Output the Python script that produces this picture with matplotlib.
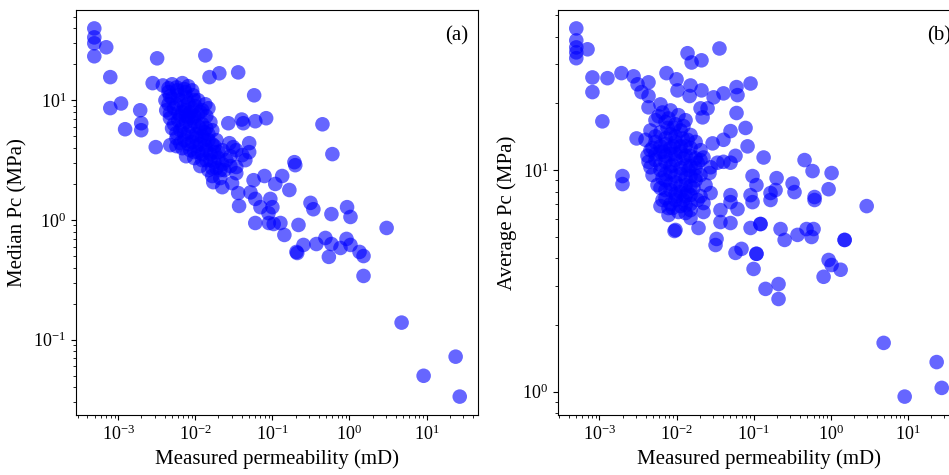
import matplotlib
matplotlib.use("Agg")
import matplotlib.pyplot as plt

plt.rcParams["font.family"] = ["Liberation Serif", "DejaVu Serif"]
plt.rcParams["mathtext.fontset"] = "stix"

# (a) permeability (mD) vs median Pc (MPa)
perm_a = [
    4.9e-4, 4.9e-4, 4.9e-4, 7.0e-4, 4.9e-4, 3.2e-3, 0.0135, 7.9e-4, 2.8e-3, 0.0153,
    0.0205, 0.036, 0.058, 7.9e-4, 1.09e-3, 1.93e-3, 1.99e-3, 1.99e-3, 1.23e-3, 3.07e-3,
    4.73e-3, 0.0268, 0.040, 0.042, 0.060, 0.083, 0.050, 0.050, 0.031, 0.446,
    0.60, 0.193, 0.198, 0.079, 0.134, 0.057, 0.109, 0.166, 0.034, 0.034,
    0.0171, 0.0224, 0.030, 0.036, 0.052, 0.060, 0.037, 0.070, 0.094, 0.10,
    0.089, 0.312, 0.34, 0.583, 0.93, 1.03, 3.03, 0.060, 0.090, 0.104,
    0.127, 0.143, 0.218, 0.205, 0.21, 0.253, 0.372, 0.487, 0.583, 0.54,
    0.764, 0.915, 1.03, 1.35, 1.52, 1.52, 4.74, 9.15, 23.8, 26.9,
    # dense cluster
    0.0038, 0.0050, 0.0068, 0.0081, 0.0045, 0.0058, 0.0074, 0.0094, 0.0109, 0.0041,
    0.0050, 0.0064, 0.0081, 0.0100, 0.0135, 0.0148, 0.0042, 0.0053, 0.0068, 0.0086,
    0.0109, 0.0139, 0.0047, 0.0060, 0.0076, 0.0097, 0.0123, 0.0157, 0.0050, 0.0064,
    0.0081, 0.0103, 0.0131, 0.0166, 0.0057, 0.0072, 0.0091, 0.0116, 0.0148, 0.0188,
    0.0068, 0.0086, 0.0109, 0.0139, 0.0177, 0.0224, 0.0097, 0.0123, 0.0157, 0.0199,
    0.0253, 0.0116, 0.0148, 0.0188, 0.0238, 0.0285, 0.0166, 0.0211, 0.0076, 0.0057,
    0.0277, 0.034, 0.0407, 0.0446, 0.0285, 0.0074, 0.0091, 0.0116, 0.0086, 0.0103,
    0.0135, 0.0064, 0.0081, 0.0166, 0.0123,
    0.0045, 0.0057, 0.0072, 0.0091, 0.0047, 0.0060, 0.0076, 0.0097, 0.0123, 0.0045,
    0.0057, 0.0072, 0.0091, 0.0116, 0.0047, 0.0060, 0.0076, 0.0097, 0.0053, 0.0068,
    0.0109, 0.0139, 0.0057, 0.0072, 0.0091, 0.0148, 0.0064, 0.0081, 0.0103, 0.0131,
    0.0177, 0.0097, 0.0123, 0.0157, 0.0199, 0.0139, 0.0177, 0.0224, 0.0166, 0.0211,
]
pc_median = [
    39.8, 33.5, 29.9, 27.7, 23.3, 22.4, 23.7, 15.6, 13.9, 15.6,
    16.8, 17.1, 11.0, 8.6, 9.4, 8.25, 6.43, 5.62, 5.73, 4.06,
    4.22, 6.43, 6.9, 6.43, 6.68, 7.08, 4.38, 3.69, 4.06, 6.3,
    3.55, 3.04, 2.87, 2.33, 2.33, 2.15, 2.0, 1.78, 2.46, 2.77,
    2.07, 1.88, 2.03, 1.68, 1.7, 1.50, 1.31, 1.28, 1.50, 1.28,
    1.14, 1.39, 1.23, 1.12, 1.28, 1.06, 0.858, 0.944, 0.944, 0.926,
    0.944, 0.75, 0.909, 0.541, 0.53, 0.619, 0.63, 0.708, 0.63, 0.492,
    0.584, 0.695, 0.619, 0.541, 0.50, 0.341, 0.139, 0.050, 0.0722, 0.0335,
    # dense cluster
    13.3, 13.6, 13.9, 13.1, 11.7, 12.1, 11.7, 11.0, 10.0, 10.0,
    10.4, 10.0, 9.44, 8.91, 9.26, 8.58, 8.25, 8.58, 7.94, 7.94,
    7.64, 7.36, 7.08, 6.81, 6.56, 6.56, 6.31, 6.56, 5.84, 5.62,
    5.41, 5.21, 5.41, 5.62, 4.82, 4.64, 4.47, 4.30, 4.64, 4.64,
    3.98, 3.83, 3.69, 3.83, 3.69, 3.83, 3.29, 3.16, 3.16, 3.29,
    3.16, 2.82, 2.61, 2.71, 2.61, 2.82, 2.33, 2.24, 3.41, 4.14,
    4.38, 3.83, 3.48, 3.16, 3.41, 8.25, 7.08, 5.84, 6.07, 4.82,
    4.14, 7.36, 7.08, 4.30, 5.0,
    12.6, 12.8, 12.4, 12.1, 10.8, 11.0, 10.6, 10.0, 8.25, 9.26,
    9.26, 8.91, 8.58, 7.94, 7.8, 7.8, 7.36, 7.36, 6.31, 6.07,
    6.07, 5.84, 5.31, 5.21, 5.0, 5.21, 4.38, 4.30, 4.14, 4.64,
    4.14, 3.69, 3.55, 3.55, 3.69, 3.16, 3.04, 2.93, 2.71, 2.61,
]

# (b) permeability (mD) vs average Pc (MPa)
perm_b = [
    5.0e-4, 5.0e-4, 5.0e-4, 5.0e-4, 5.0e-4, 7.0e-4, 8.1e-4, 1.27e-3, 8.1e-4, 1.09e-3,
    1.93e-3, 2.77e-3, 3.12e-3, 4.33e-3, 3.51e-3, 4.33e-3, 4.33e-3, 6.19e-3, 7.41e-3, 0.0100,
    0.0103, 0.0152, 0.0148, 0.0211, 0.0139, 0.0157, 0.0211, 0.0361, 0.0303, 0.0407,
    0.0601, 0.0619, 0.0914, 0.0205, 0.0253, 0.0218, 0.0601, 0.0502, 0.0787, 0.0407,
    0.0294, 0.0836, 0.0583, 0.135, 3.03e-3, 1.99e-3, 1.99e-3, 4.59e-3, 0.459, 0.583,
    1.03, 0.942, 2.94, 0.321, 0.340, 0.199, 0.193, 0.166, 0.619, 0.0970,
    0.109, 0.0914, 0.0502, 0.0502, 0.0619, 0.0372, 0.0970, 0.123, 0.224, 0.253,
    0.372, 0.487, 0.601, 0.566, 1.52, 9.70e-3, 0.0193, 0.0277, 0.0224, 0.0224,
    0.0372, 0.0502, 0.0914, 0.0331, 0.0321, 0.0583, 0.0698, 0.109, 0.100, 6.58e-3,
    7.87e-3, 0.0131, 0.0152, 0.0188, 0.0139, 0.0277, 0.0340, 0.0407, 0.0188, 0.0224,
    0.166, 0.942, 1.03, 1.35, 0.811, 0.143, 0.211, 0.211, 4.88, 9.15,
    23.8, 27.7, 0.0502, 0.0268, 9.42e-3, 0.619, 8.87e-3, 0.0152, 0.0123, 1.52,
    0.123, 0.109,
    # dense cluster
    6.58e-3, 8.36e-3, 0.0106, 5.33e-3, 7.19e-3, 9.70e-3, 0.0131, 4.59e-3, 6.19e-3, 8.36e-3,
    0.0113, 0.0152, 3.96e-3, 5.33e-3, 7.19e-3, 9.70e-3, 0.0131, 0.0177, 4.59e-3, 6.19e-3,
    8.36e-3, 0.0113, 0.0152, 0.0205, 5.33e-3, 7.19e-3, 9.70e-3, 0.0131, 0.0177, 6.19e-3,
    8.36e-3, 0.0113, 0.0152, 7.19e-3, 9.70e-3, 0.0131, 0.0177, 6.19e-3, 8.36e-3, 0.0113,
    0.0152, 7.19e-3, 9.70e-3, 0.0131, 0.0106, 7.87e-3, 0.0205, 0.0238, 4.33e-3, 4.88e-3,
    8.87e-3, 0.0120, 7.64e-3, 5.66e-3, 0.0143, 6.78e-3, 9.14e-3, 0.0123, 0.0166, 0.0100,
    5.83e-3, 7.87e-3, 9.14e-3, 0.0123, 5.33e-3, 7.19e-3, 9.70e-3, 0.0139, 6.19e-3, 8.36e-3,
    0.0113, 0.0152, 5.33e-3, 7.19e-3, 9.70e-3, 0.0131, 0.0177, 6.19e-3, 8.36e-3, 0.0113,
    0.0152, 7.19e-3, 9.70e-3, 0.0131, 0.0177, 8.36e-3, 0.0113, 0.0152, 7.19e-3, 9.70e-3,
    0.0131, 8.36e-3, 0.0113, 0.0152, 6.58e-3, 4.88e-3, 4.20e-3, 0.0205, 0.0205, 6.19e-3,
]
pc_average = [
    43.6, 38.5, 35.8, 34.0, 32.0, 35.1, 26.2, 26.0, 22.5, 16.6,
    27.4, 26.5, 24.4, 24.9, 22.5, 21.6, 19.2, 19.8, 27.4, 25.7,
    22.9, 24.1, 21.6, 22.9, 33.7, 30.6, 31.3, 35.4, 21.3, 22.2,
    23.7, 21.8, 24.6, 19.0, 19.0, 17.3, 18.1, 15.0, 15.5, 13.7,
    13.2, 12.8, 11.6, 11.4, 13.9, 9.4, 8.65, 10.3, 11.1, 9.9,
    9.7, 8.2, 6.88, 8.7, 7.96, 9.2, 8.13, 7.88, 7.56, 9.4,
    8.56, 7.71, 7.71, 7.17, 6.67, 6.6, 7.17, 5.71, 5.42, 4.84,
    5.10, 5.42, 5.42, 4.99, 4.84, 5.37, 5.48, 7.88, 7.1, 6.47,
    5.83, 5.77, 5.48, 4.89, 4.59, 4.23, 4.41, 4.19, 3.58, 7.33,
    6.74, 6.4, 6.08, 7.33, 7.96, 10.3, 10.8, 10.9, 10.8, 11.4,
    7.33, 3.93, 3.73, 3.55, 3.30, 2.91, 3.06, 2.62, 1.66, 0.95,
    1.36, 1.04, 10.8, 9.7, 5.31, 7.33, 6.74, 6.6, 7.33, 4.84,
    5.71, 4.19,
    # dense cluster
    18.2, 18.6, 17.7, 16.8, 16.5, 16.1, 16.8, 15.1, 14.8, 14.5,
    15.1, 14.4, 13.7, 13.4, 13.1, 13.4, 12.8, 13.4, 12.3, 12.1,
    11.8, 12.1, 11.6, 12.3, 11.1, 10.9, 11.1, 10.5, 10.2, 10.0,
    9.8, 9.6, 9.4, 9.0, 8.8, 8.56, 9.0, 8.3, 8.13, 7.96,
    7.71, 7.48, 7.33, 6.95, 6.47, 6.27, 9.5, 8.56, 10.9, 9.5,
    10.5, 13.9, 15.5, 8.56, 10.0, 12.1, 12.8, 11.3, 8.3, 7.63,
    17.5, 17.1, 15.5, 15.8, 14.2, 13.9, 14.2, 13.7, 12.8, 12.6,
    12.8, 12.6, 11.8, 11.6, 11.8, 11.6, 11.3, 10.6, 10.4, 10.2,
    10.4, 9.6, 9.4, 9.2, 9.4, 8.65, 8.47, 8.47, 8.13, 7.8,
    7.63, 7.03, 6.88, 7.03, 9.2, 12.6, 11.6, 11.1, 7.63, 6.88,
]

fig = plt.figure(figsize=(9.49, 4.75), dpi=100)
ax1 = fig.add_axes([0.0801, 0.1263, 0.4236, 0.8526])
ax2 = fig.add_axes([0.588, 0.1263, 0.4236, 0.8526])

ax1.scatter(perm_a, pc_median, s=110, color="blue", alpha=0.6, edgecolors="none")
ax2.scatter(perm_b, pc_average, s=110, color="blue", alpha=0.6, edgecolors="none")

for ax, ylab, tag in [(ax1, "Median Pc (MPa)", "(a)"), (ax2, "Average Pc (MPa)", "(b)")]:
    ax.set_xscale("log")
    ax.set_yscale("log")
    ax.set_xlabel("Measured permeability (mD)", fontsize=15)
    ax.set_ylabel(ylab, fontsize=15)
    ax.tick_params(labelsize=13)
    ax.text(0.918, 0.935, tag, transform=ax.transAxes, fontsize=15, ha="left", va="center")

fig.savefig("out.png", dpi=100)
